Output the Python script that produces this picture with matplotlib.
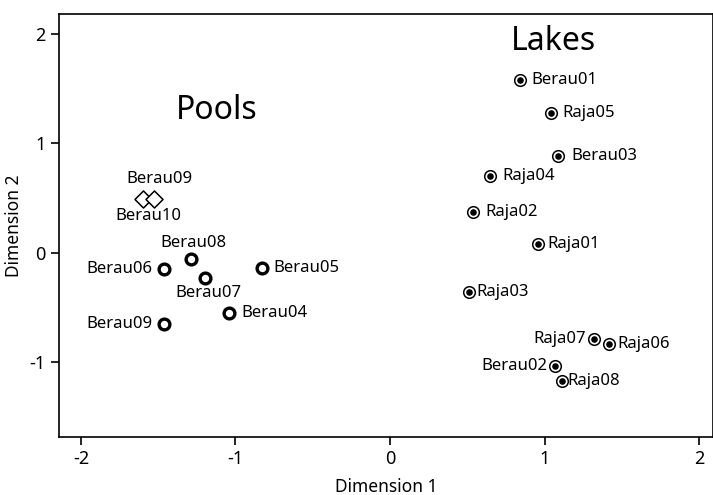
import matplotlib.pyplot as plt

plt.rcParams['font.family'] = ['Noto Sans', 'DejaVu Sans']
plt.rcParams['axes.unicode_minus'] = False

# pools (open circles) and the two diamond samples
pool_names = ['Berau08', 'Berau06', 'Berau07', 'Berau05', 'Berau04', 'Berau09']
pool_x = [-1.29, -1.46, -1.20, -0.83, -1.04, -1.46]
pool_y = [-0.06, -0.15, -0.23, -0.14, -0.55, -0.65]

diamond_names = ['Berau09', 'Berau10']
diamond_x = [-1.60, -1.53]
diamond_y = [0.49, 0.49]

# lakes (circle with dot)
lake_names = ['Berau01', 'Raja05', 'Berau03', 'Raja04', 'Raja02', 'Raja01',
              'Raja03', 'Raja07', 'Raja06', 'Berau02', 'Raja08']
lake_x = [0.84, 1.04, 1.09, 0.65, 0.54, 0.96, 0.51, 1.32, 1.42, 1.07, 1.11]
lake_y = [1.58, 1.28, 0.88, 0.70, 0.37, 0.08, -0.36, -0.79, -0.83, -1.03, -1.17]

# label offsets in pixels (dx, dy, ha)
pool_offsets = [(3, 16, 'center'), (-12, 0, 'right'), (4, -15, 'center'),
                (12, 0, 'left'), (12, 0, 'left'), (-12, 0, 'right')]
lake_offsets = [(12, 0, 'left'), (12, 0, 'left'), (13, 0, 'left'),
                (12, 0, 'left'), (12, 0, 'left'), (9, 0, 'left'),
                (8, 0, 'left'), (-8, 0, 'right'), (8, 0, 'left'),
                (-8, 0, 'right'), (6, 0, 'left')]

fig = plt.figure(figsize=(7.13, 4.95), dpi=100)
ax = fig.add_axes([0.0827, 0.1172, 0.9173, 0.8545])

ax.scatter(pool_x, pool_y, s=60, facecolors='white', edgecolors='black',
           linewidths=2.4, zorder=3)
ax.scatter(diamond_x, diamond_y, s=75, marker='D', facecolors='white',
           edgecolors='black', linewidths=1.1, zorder=3)
ax.scatter(lake_x, lake_y, s=70, facecolors='white', edgecolors='black',
           linewidths=1.1, zorder=3)
ax.scatter(lake_x, lake_y, s=14, color='black', zorder=4)

fs = 12
for name, x, y, (dx, dy, ha) in zip(pool_names, pool_x, pool_y, pool_offsets):
    ax.annotate(name, (x, y), xytext=(dx, dy), textcoords='offset pixels',
                ha=ha, va='center', fontsize=fs)
for name, x, y, (dx, dy, ha) in zip(lake_names, lake_x, lake_y, lake_offsets):
    ax.annotate(name, (x, y), xytext=(dx, dy), textcoords='offset pixels',
                ha=ha, va='center', fontsize=fs)

mid_x = sum(diamond_x) / 2
ax.annotate(diamond_names[0], (mid_x, diamond_y[0]), xytext=(11, 20),
            textcoords='offset pixels', ha='center', va='center', fontsize=fs)
ax.annotate(diamond_names[1], (mid_x, diamond_y[0]), xytext=(0, -17),
            textcoords='offset pixels', ha='center', va='center', fontsize=fs)

ax.text(-1.12, 1.30, 'Pools', fontsize=23, ha='center', va='center')
ax.text(1.055, 1.93, 'Lakes', fontsize=23, ha='center', va='center')

ax.set_xlim(-2.142, 2.09)
ax.set_ylim(-1.68, 2.18)
ax.set_xticks([-2, -1, 0, 1, 2])
ax.set_yticks([-1, 0, 1, 2])
ax.tick_params(direction='out', length=6, width=1.2, labelsize=13)
for sp in ax.spines.values():
    sp.set_linewidth(1.2)

ax.set_xlabel('Dimension 1', fontsize=12.5, labelpad=7)
ax.set_ylabel('Dimension 2', fontsize=12.5, labelpad=5)

fig.savefig('out.png', dpi=100)
